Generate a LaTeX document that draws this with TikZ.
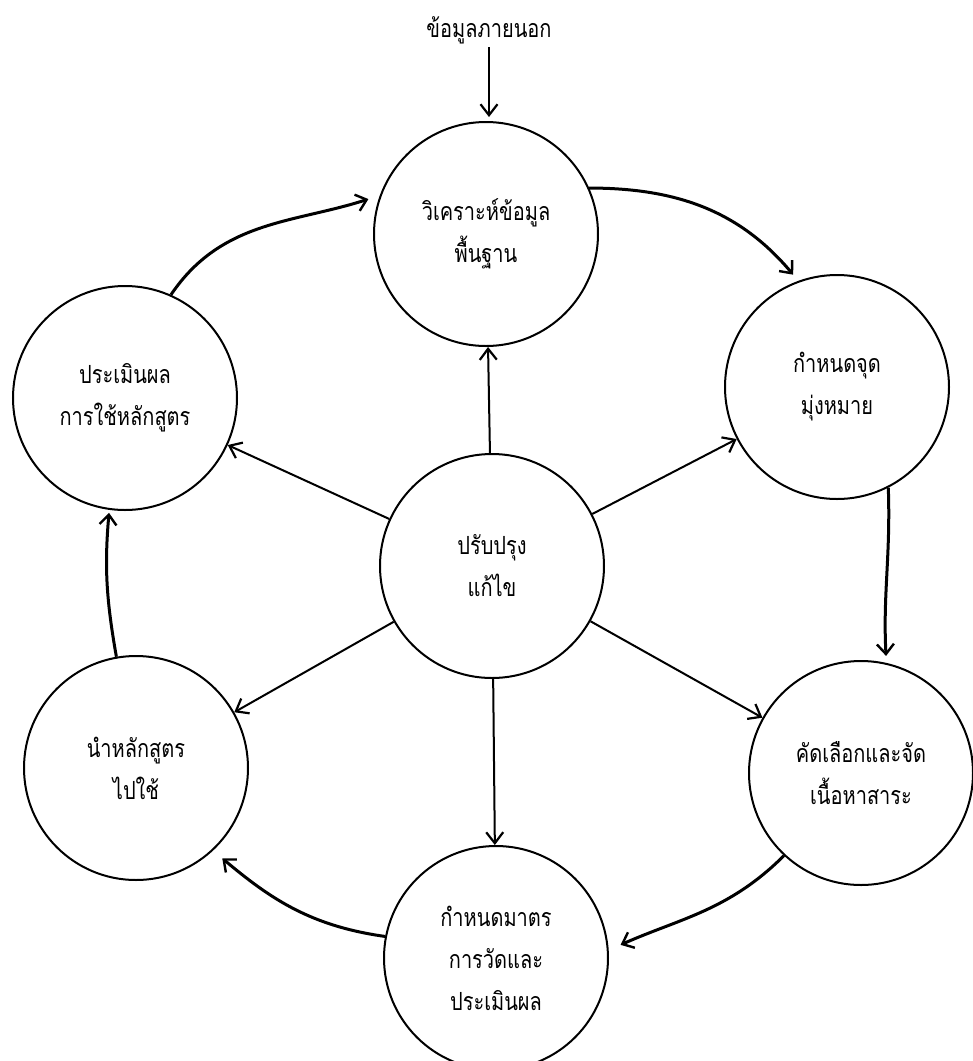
\documentclass[tikz,border=0pt]{standalone}
\usepackage{fontspec}
\newfontfamily\thaifont[Script=Thai,FakeStretch=0.8]{Loma}
\usetikzlibrary{arrows.meta}
\begin{document}
\begin{tikzpicture}[x=1pt,y=-1pt,
  txt/.style={font=\thaifont\fontsize{25}{42}\selectfont,align=center},
  bubble/.style={circle,draw,line width=2pt,minimum size=224pt,inner sep=0pt,txt},
  sarr/.style={line width=2pt,-{Straight Barb[length=11pt,width=17pt,line width=2.2pt]}},
  carr/.style={line width=3pt,-{Straight Barb[length=10pt,width=17pt,line width=2.4pt]}}]
\useasboundingbox (0,0) rectangle (973,1061);
\node[bubble] (t)  at (486,234) {วิเคราะห์ข้อมูล\\พื้นฐาน};
\node[bubble] (tr) at (837,387) {กำหนดจุด\\มุ่งหมาย};
\node[bubble] (lt) at (125,398) {ประเมินผล\\การใช้หลักสูตร};
\node[bubble] (c)  at (492,566) {ปรับปรุง\\แก้ไข};
\node[bubble] (lb) at (136,768) {นำหลักสูตร\\ไปใช้};
\node[bubble] (rb) at (861,773) {คัดเลือกและจัด\\เนื้อหาสาระ};
\node[bubble] (b)  at (496,958) {กำหนดมาตร\\การวัดและ\\ประเมินผล};
\node[txt] (ext) at (489,30) {ข้อมูลภายนอก};
% external input
\draw[sarr,shorten >=4pt] (ext.south) -- (ext.south |- t.north);
% spokes from centre
\draw[sarr] (c) -- (t);
\draw[sarr] (c) -- (lt);
\draw[sarr] (c) -- (tr);
\draw[sarr] (c) -- (lb);
\draw[sarr] (c) -- (rb);
\draw[sarr] (c) -- (b);
% cycle
\draw[carr,shorten >=8pt] (t.24) to[out=0,in=130] (tr.110);
\draw[carr,shorten >=7pt] (tr.-63) to[out=-88,in=93] (rb.77);
\draw[carr,shorten >=13pt] (rb.227) to[out=225,in=24] (b.4);
\draw[carr,shorten >=12pt] (b.169) to[out=172,in=-40] (lb.-47);
\draw[carr,shorten >=3pt] (lb.100) to[out=100,in=-95] (lt.-98);
\draw[carr,shorten >=12pt] (lt.66) to[out=56,in=198] (t.160);
\end{tikzpicture}
\end{document}
